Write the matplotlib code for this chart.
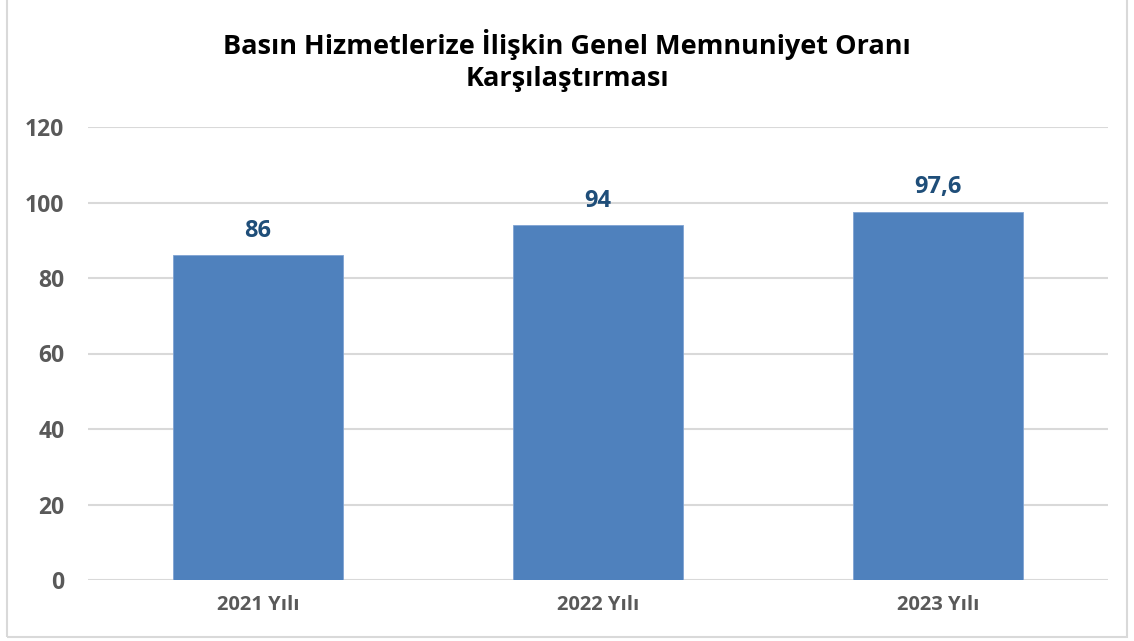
import matplotlib.pyplot as plt
from matplotlib.patches import Rectangle

# data
years = ["2021 Yılı", "2022 Yılı", "2023 Yılı"]
rates = [86, 94, 97.6]
rate_labels = ["86", "94", "97,6"]
y_ticks = [0, 20, 40, 60, 80, 100, 120]

title = "Basın Hizmetlerize İlişkin Genel Memnuniyet Oranı\nKarşılaştırması"

plt.rcParams['font.family'] = ['Open Sans', 'DejaVu Sans']

fig = plt.figure(figsize=(11.34, 6.41), dpi=100)
ax = fig.add_axes([88/1134, 61/641, 1020/1134, 453/641])

# chart border
fig.patches.append(Rectangle((7/1134, 4/641), 1120/1134, 640/641,
                             transform=fig.transFigure, fill=False,
                             edgecolor='#D9D9D9', linewidth=1.5))

xs = range(len(years))
ax.bar(xs, rates, width=0.5, color='#4F81BD', edgecolor='#7FA3D3',
       linewidth=0.6, zorder=3)

for x, v, lab in zip(xs, rates, rate_labels):
    ax.annotate(lab, (x, v), xytext=(0, 9), textcoords='offset points',
                ha='center', va='bottom', fontsize=17, fontweight='bold',
                color='#1F4E79')

ax.set_xlim(-0.5, 2.5)
ax.set_ylim(0, 120)
ax.set_yticks(y_ticks)
ax.set_xticks(list(xs))
ax.set_xticklabels(years)
ax.grid(axis='y', color='#D9D9D9', linewidth=1.5, zorder=0)
for s in ax.spines.values():
    s.set_visible(False)
ax.tick_params(length=0)
ax.tick_params(axis='y', labelsize=16.5, labelcolor='#595959', pad=17)
ax.tick_params(axis='x', labelsize=14.5, labelcolor='#595959', pad=11)
for t in ax.get_yticklabels() + ax.get_xticklabels():
    t.set_fontweight('bold')

fig.text(0.5, 1 - 60/641, title, ha='center', va='center', fontsize=19.5,
         fontweight='bold', color='black', linespacing=1.3)

fig.savefig("out.png", dpi=100)
